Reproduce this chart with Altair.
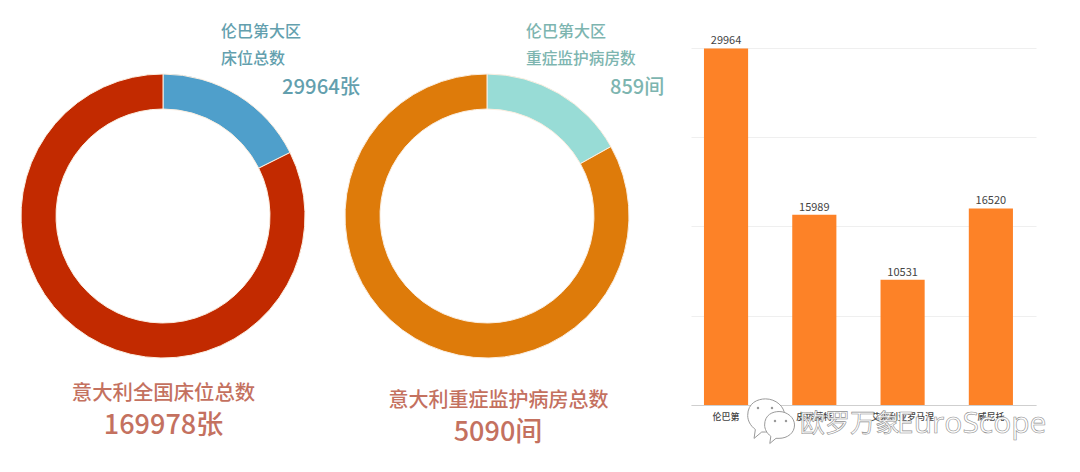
import altair as alt
import pandas as pd

FONT = "Noto Sans CJK SC"

donut_groups = ["part", "rest"]
beds_values = [29964, 140014]
icu_values = [859, 4231]
beds_colors = ["#4f9fcb", "#c22a00"]
icu_colors = ["#98dcd6", "#de7b0a"]

bar_categories = ["伦巴第", "皮埃蒙特", "艾米利亚罗马涅", "威尼托"]
bar_values = [29964, 15989, 10531, 16520]

TEAL = "#639fae"
MINT = "#7db5b0"
CORAL = "#c4715f"


def label(text, x, y, size, color, weight=500, align="left"):
    return alt.Chart(pd.DataFrame({"t": [text]})).mark_text(
        font=FONT, fontSize=size, color=color, fontWeight=weight, align=align, baseline="middle"
    ).encode(text="t:N", x=alt.value(x), y=alt.value(y))


def donut(values, colors, cx):
    df = pd.DataFrame({"g": donut_groups, "v": values, "o": [0, 1]})
    return alt.Chart(df).mark_arc(
        outerRadius=142, innerRadius=107, stroke="#fbeee0", strokeWidth=1
    ).encode(
        theta=alt.Theta("v:Q", stack=True),
        order=alt.Order("o:Q"),
        color=alt.Color("g:N", scale=alt.Scale(domain=donut_groups, range=colors), legend=None),
        x=alt.value(cx),
        y=alt.value(208),
    )


donuts = alt.layer(
    donut(beds_values, beds_colors, 155),
    donut(icu_values, icu_colors, 479),
    label("伦巴第大区", 213, 24, 16, TEAL),
    label("床位总数", 213, 51, 16, TEAL),
    label("29964张", 274, 80, 20.3, TEAL),
    label("意大利全国床位总数", 155.5, 386, 20.4, CORAL, align="center"),
    label("169978张", 155.5, 418, 27, CORAL, align="center"),
    label("伦巴第大区", 518, 24, 16, MINT),
    label("重症监护病房数", 518, 51, 15.7, MINT),
    label("859间", 602, 80, 20, MINT),
    label("意大利重症监护病房总数", 490.5, 393, 20, CORAL, align="center"),
    label("5090间", 490, 425, 27, CORAL, align="center"),
).resolve_scale(theta="independent", color="independent").properties(width=683, height=448)

bar_df = pd.DataFrame({"c": bar_categories, "v": bar_values})
x_enc = alt.X(
    "c:N",
    sort=bar_categories,
    scale=alt.Scale(paddingInner=0.5, paddingOuter=0.204, align=0.36),
    axis=alt.Axis(
        title=None, labelAngle=0, labelFont=FONT, labelFontSize=9, labelFontWeight=500,
        labelColor="#444", domainColor="#cfcfcf", ticks=False, labelPadding=7, grid=False,
    ),
)
y_enc = alt.Y(
    "v:Q",
    scale=alt.Scale(domain=[0, 33360], nice=False),
    axis=alt.Axis(
        title=None, values=[0, 7500, 15000, 22500, 30000], labels=False, ticks=False,
        domain=False, grid=True, gridColor="#efefef",
    ),
)
bars = alt.Chart(bar_df).mark_bar(color="#fd8227").encode(x=x_enc, y=y_enc)
bar_text = alt.Chart(bar_df).mark_text(
    font=FONT, fontSize=11, color="#444", baseline="bottom", dy=-2
).encode(x=alt.X("c:N", sort=bar_categories), y=alt.Y("v:Q"), text="v:Q")

bubble = "M-0.6,-0.1 C-0.6,-0.6 -0.2,-0.75 0.1,-0.75 C0.5,-0.75 0.85,-0.45 0.85,-0.1 C0.85,0.3 0.5,0.55 0.1,0.55 L-0.05,0.55 L-0.35,0.8 L-0.3,0.45 C-0.5,0.3 -0.6,0.1 -0.6,-0.1 Z"


def bubble_mark(x, y, size):
    return alt.Chart(pd.DataFrame({"k": [1]})).mark_point(
        shape=bubble, size=size, filled=True, fill="#ffffff", stroke="#9a9a9a", strokeWidth=1, opacity=1
    ).encode(x=alt.value(x), y=alt.value(y))


def eye(x, y):
    return alt.Chart(pd.DataFrame({"k": [1]})).mark_point(
        shape="circle", size=6, filled=True, color="#9a9a9a", opacity=1
    ).encode(x=alt.value(x), y=alt.value(y))


def watermark(text, x, size, font):
    return alt.Chart(pd.DataFrame({"t": [text]})).mark_text(
        font=font, fontSize=size, fill="#ffffff", stroke="#8f8f8f", strokeWidth=0.6,
        align="left", baseline="middle", limit=300,
    ).encode(text="t:N", x=alt.value(x), y=alt.value(416))


panel = alt.layer(
    bars,
    bar_text,
    bubble_mark(72, 410, 2600),
    eye(67, 400),
    eye(81, 400),
    bubble_mark(86, 419, 1700),
    eye(84, 413),
    eye(95, 413),
    watermark("欧罗万象", 109, 25, FONT),
    watermark("EuroScope", 206, 30, "Open Sans"),
).properties(width=345, height=397)

chart = (
    alt.hconcat(donuts, panel, spacing=0)
    .resolve_scale(color="independent")
    .properties(padding=0, background="#ffffff")
    .configure_view(stroke=None)
)

chart.save("out.html", embed_options={"renderer": "svg", "actions": False})
